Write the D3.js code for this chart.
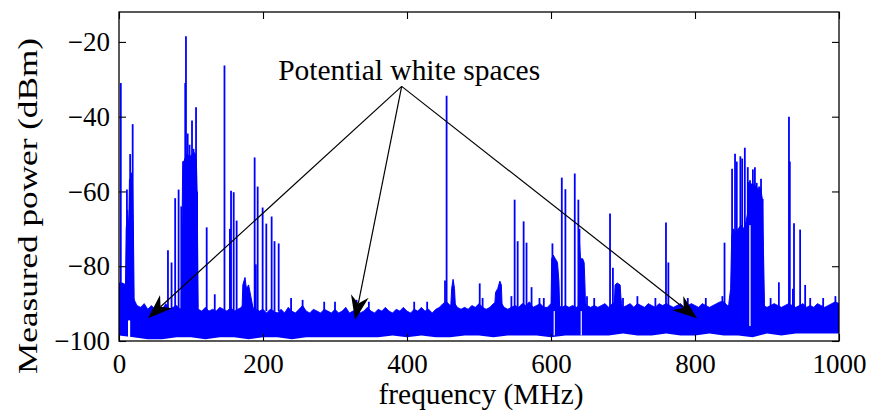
<!DOCTYPE html>
<html><head><meta charset="utf-8">
<script src="https://cdn.jsdelivr.net/npm/d3@7"></script>
<style>html,body{margin:0;padding:0;background:#fff;} svg{display:block;}</style>
</head><body>
<svg id="chart" width="871" height="411"></svg>
<script>
// ---------------- data ----------------
const xTicks = [0, 200, 400, 600, 800, 1000];
const yTicks = [-100, -80, -60, -40, -20];
const xDomain = [0, 1000];
const yDomain = [-100, -12];

// upper edge of the noise floor, every 5 MHz from 0 to 1000 MHz
const floorStep = 5;
const floorTop = [
  -84.5,-84.5,-85,-86.5,-88.5,-90.5,-91,-90,-91.5,-90.5,-91.5,-91,-91.5,-90,-91.5,-91,-90.5,-91.5,-90.5,-90.5,
  -90.5,-90.5,-91.5,-92,-91,-92,-91.5,-92,-91,-91.5,-92,-91,-92,-91.5,-91,-89.5,-89,-91,-91.5,-92,
  -91.5,-92.5,-91.5,-92,-92.5,-91.5,-92.5,-91,-92,-92.5,-91.5,-90.5,-92,-92.5,-91.5,-92,-92.5,-91.5,-92,-92.5,
  -91.5,-92.5,-92,-91,-92.5,-92,-91.5,-92.5,-92,-91,-92,-92.5,-91.5,-92,-91,-92,-92.5,-91.5,-92,-91,
  -92,-92.5,-91.5,-92,-91,-92,-91.5,-92.5,-91.5,-91,-90,-89.5,-90.5,-89.5,-91,-91.5,-91,-91.5,-90.5,-91,
  -90,-91,-91.5,-91,-90,-89.5,-89.5,-91,-91.5,-91,-90.5,-91,-90,-90.5,-89.5,-91,-90.5,-90,-91,-91,
  -90,-90.5,-90.5,-91,-90.5,-91,-90.5,-91,-90.5,-90,-90.5,-91,-90.5,-91,-90.5,-90,-91,-90,-89.5,-90,
  -91,-90.5,-90,-91,-90,-90.5,-91,-90,-90.5,-91,-90,-90.5,-90,-90.5,-91,-90.5,-90,-91,-90.5,-90,
  -90.5,-91,-90,-90.5,-91,-90.5,-90,-89.5,-89.5,-90.5,-90.5,-90.5,-90.5,-90.5,-90.5,-90.5,-90.5,-90.5,-90.5,-90.5,
  -91,-90.5,-90,-90.5,-91,-90.5,-90,-90.5,-91,-90.5,-90,-91,-90.5,-91,-90,-90.5,-91,-90.5,-90,-89.5,
  -90
];

// lower edge of the noise floor, every 20 MHz
const floorLowStep = 20;
const floorLow = [
  -98.5,-99,-99.5,-99.5,-99,-99,-99.5,-99,-99,-99.5,
  -99,-99,-99.5,-99,-99,-99,-99,-99,-99,-98.5,
  -99,-98.5,-99,-99,-98.5,-98.5,-99,-98.5,-98.5,-98.5,
  -99,-98.5,-98.5,-98.5,-98.5,-98,-98.5,-98.5,-98,-98.5,
  -98.5,-98,-98.5,-98.5,-99,-98,-98.5,-98,-98,-98,
  -98
];

// occupied bands (upper envelope of the dense part)
const lfBandFreq = [9, 10, 12, 13.5, 14.5, 17, 18.5, 20, 21];
const lfBandTop  = [-85, -70, -65, -70, -57, -56, -55, -70, -88];
const fmBandFreq = [86.5, 87.5, 88.5, 90, 92, 94, 96, 98, 100, 102, 104, 106, 107.5, 108.5, 110];
const fmBandTop  = [-91, -70, -52, -52, -51, -50, -50.5, -50, -51, -50, -49.5, -50, -52, -60, -91];
const tvBandFreq = [847, 849.5, 851, 853, 856, 860, 864, 868, 871, 873, 874, 877, 880, 884, 888, 891, 893.5, 895, 896.5];
const tvBandTop  = [-90, -86, -72, -70, -71, -70, -69, -70, -68, -66, -59, -58, -58, -58.5, -59.5, -59, -62, -75, -90];
const hump175Freq = [171, 172, 175, 177, 180, 183, 186];
const hump175Top  = [-91, -85, -83, -86, -85, -88, -91];
const hump465Freq = [461, 462, 464, 466, 467];
const hump465Top  = [-90, -86, -83.5, -86, -90];
const hump528Freq = [522, 523, 526, 529, 531, 532];
const hump528Top  = [-90, -87, -86, -84, -85, -90];
const hump605Freq = [600, 601, 603, 606, 609, 611, 612];
const hump605Top  = [-91, -78, -77, -78, -79, -84, -91];
const hump642Freq = [638, 639, 641, 644, 646, 647, 648];
const hump642Top  = [-91, -72, -78, -78, -79, -84, -91];
const hump692Freq = [688, 689, 692, 696, 697, 698];
const hump692Top  = [-90, -85, -84.5, -85, -88, -90];

// narrow carriers (frequency in MHz, peak in dBm)
const spikeFreq = [
  2.5, 11, 15.5, 17, 19,
  68, 73, 78, 82.8, 86.5,
  92, 93, 95.4, 98, 101.4, 103.5, 107, 108.5,
  121.8, 133, 146.5, 154, 155.6, 159.3, 163.4, 188.4, 190, 192.6, 199.5, 204.6, 212, 216, 221.8, 239, 255,
  285, 300, 330, 347, 410, 428,
  452.8, 455, 501, 505, 545, 549.5, 553.7, 562, 566, 573, 584, 590,
  602, 615, 620, 633, 638, 639.5, 650, 660, 682, 686, 700, 720, 745, 759.7, 763, 790, 815, 838, 841,
  851.5, 855.6, 858, 863, 865.5, 869.2, 873.3, 874.8, 876.4, 880.4, 883.2, 885.7, 889, 891.7, 894,
  905, 916.5, 930.5, 931.7, 936, 937.5, 946, 953, 960, 978, 995
];
const spikePeak = [
  -31, -59.5, -50, -55, -42,
  -75.7, -79, -61.8, -59.5, -64,
  -31, -18.5, -44.5, -47.5, -41, -48.6, -37.5, -60,
  -69.6, -87.5, -26.3, -70, -59.8, -60.2, -67.8, -50.9, -79.5, -58.7, -64.3, -68.6, -66.7, -73.3, -73.9, -88.5, -89,
  -89.5, -89.5, -89, -89.5, -89.5, -89.5,
  -83.8, -34.4, -84.6, -88.5, -88, -62.2, -73.3, -68, -73.7, -85.6, -88.5, -88.5,
  -73.9, -56.3, -59.4, -55.2, -62.2, -70, -88, -88.5, -65.9, -80.4, -88.5, -88, -88.5, -68.3, -79, -88.5, -88.5, -88, -73.7,
  -53.9, -49.9, -52, -50.6, -51.2, -48.3, -53.5, -57.5, -57, -54.1, -53.5, -57.7, -58.7, -56.6, -62,
  -88.5, -84.3, -40, -52, -86, -68.5, -70.2, -85, -88.5, -88.5, -88
];
const spikeBase = -92;

// white gaps in the floor
const notchFrom   = [12.5, 603.7, 641.2, 875.4];
const notchTo     = [15.5, 605.3, 642.8, 877.2];
const notchTop    = [-94.5, -92, -92, -69];
const notchBottom = [-99.5, -98.5, -98.5, -96];

// annotation
const annotationText = "Potential white spaces";
const annotationAt = [403, -30.2];          // text anchor (MHz, dBm)
const arrowFrom = [392.6, -31.9];           // common start of the arrows
const arrowTipFreq  = [40.3, 327.8, 802.8];
const arrowTipPower = [-93.9, -94.4, -93.9];

const xLabel = "frequency (MHz)";
const yLabel = "Measured power (dBm)";

// ---------------- drawing ----------------
const plotL = 119, plotR = 839, plotT = 12, plotB = 341;
const blue = "#0000ff";
const serif = "'Liberation Serif','Times New Roman',Times,serif";

const svg = d3.select("#chart");
const x = d3.scaleLinear().domain(xDomain).range([plotL, plotR]);
const y = d3.scaleLinear().domain(yDomain).range([plotB, plotT]);

svg.append("defs").append("clipPath").attr("id", "plotclip")
  .append("rect").attr("x", plotL).attr("y", plotT).attr("width", plotR - plotL).attr("height", plotB - plotT);

const g = svg.append("g").attr("clip-path", "url(#plotclip)");

// noise floor: from the axis bottom up to the upper envelope
const floorPts = floorTop.map((v, i) => [i * floorStep, v]);
g.append("path")
  .attr("d", d3.area().x(d => x(d[0])).y0(y(yDomain[0])).y1(d => y(d[1]))(floorPts))
  .attr("fill", blue).attr("stroke", blue).attr("stroke-width", 0.8);

// bands
const bands = [
  [lfBandFreq, lfBandTop], [fmBandFreq, fmBandTop], [tvBandFreq, tvBandTop],
  [hump175Freq, hump175Top], [hump465Freq, hump465Top], [hump528Freq, hump528Top],
  [hump605Freq, hump605Top], [hump642Freq, hump642Top], [hump692Freq, hump692Top]
];
bands.forEach(([fr, tp]) => {
  const pts = fr.map((f, i) => [f, tp[i]]);
  g.append("path")
    .attr("d", d3.area().x(d => x(d[0])).y0(y(spikeBase)).y1(d => y(d[1]))(pts))
    .attr("fill", blue).attr("stroke", blue).attr("stroke-width", 1);
});

// spikes
g.selectAll("line.spike").data(spikeFreq.map((f, i) => [f, spikePeak[i]]))
  .join("line").attr("class", "spike")
  .attr("x1", d => x(d[0])).attr("x2", d => x(d[0]))
  .attr("y1", y(spikeBase)).attr("y2", d => y(d[1]))
  .attr("stroke", blue).attr("stroke-width", 1.8);

// white below the lower envelope of the floor
const lowPts = floorLow.map((v, i) => [i * floorLowStep, v]);
g.append("path")
  .attr("d", d3.area().x(d => x(d[0])).y0(y(yDomain[0]) + 2).y1(d => y(d[1]))(lowPts))
  .attr("fill", "#fff").attr("stroke", "none");

// notches
g.selectAll("rect.notch").data(notchFrom.map((f, i) => i))
  .join("rect").attr("class", "notch")
  .attr("x", i => x(notchFrom[i])).attr("width", i => x(notchTo[i]) - x(notchFrom[i]))
  .attr("y", i => y(notchTop[i])).attr("height", i => y(notchBottom[i]) - y(notchTop[i]))
  .attr("fill", "#fff");

// axes (ticks inward on all four sides)
const tickLen = 7;
const axB = svg.append("g").attr("transform", `translate(0,${plotB})`)
  .call(d3.axisBottom(x).tickValues(xTicks).tickSize(-tickLen).tickPadding(13).tickFormat(d3.format("d")));
const axT = svg.append("g").attr("transform", `translate(0,${plotT})`)
  .call(d3.axisTop(x).tickValues(xTicks).tickSize(-tickLen).tickFormat(""));
const axL = svg.append("g").attr("transform", `translate(${plotL},0)`)
  .call(d3.axisLeft(y).tickValues(yTicks).tickSize(-tickLen).tickPadding(9)
    .tickFormat(d => d < 0 ? "\u2212" + Math.abs(d) : d));
const axR = svg.append("g").attr("transform", `translate(${plotR},0)`)
  .call(d3.axisRight(y).tickValues(yTicks).tickSize(-tickLen).tickFormat(""));
[axB, axT, axL, axR].forEach(a => {
  a.select(".domain").remove();
  a.selectAll("line").attr("stroke", "#000").attr("stroke-width", 1.1);
  a.selectAll("text").attr("font-family", serif).attr("font-size", 27).attr("fill", "#000");
});

svg.append("rect").attr("x", plotL).attr("y", plotT).attr("width", plotR - plotL).attr("height", plotB - plotT)
  .attr("fill", "none").attr("stroke", "#000").attr("stroke-width", 1.3);

// axis labels
svg.append("text").attr("x", 481).attr("y", 404)
  .attr("text-anchor", "middle").attr("font-family", serif).attr("font-size", 30).attr("fill", "#000")
  .attr("textLength", 205).attr("lengthAdjust", "spacingAndGlyphs")
  .text(xLabel);
svg.append("text").attr("transform", "translate(29,206) scale(0.85,1) rotate(-90)")
  .attr("text-anchor", "middle").attr("dy", "0.3em").attr("font-family", serif).attr("font-size", 32).attr("fill", "#000")
  .attr("textLength", 336).attr("lengthAdjust", "spacingAndGlyphs")
  .text(yLabel);

// annotation text
svg.append("text").attr("x", x(annotationAt[0])).attr("y", y(annotationAt[1]))
  .attr("text-anchor", "middle").attr("font-family", serif).attr("font-size", 29)
  .attr("textLength", 262).attr("lengthAdjust", "spacingAndGlyphs").attr("fill", "#000")
  .text(annotationText);

// arrows
const ax0 = x(arrowFrom[0]), ay0 = y(arrowFrom[1]);
arrowTipFreq.forEach((f, i) => {
  const tx = x(f), ty = y(arrowTipPower[i]);
  const dx = ax0 - tx, dy = ay0 - ty, L = Math.hypot(dx, dy);
  const ux = dx / L, uy = dy / L, nx = -uy, ny = ux;
  const len = 24.5, half = 9, notch = 17;
  svg.append("line").attr("x1", ax0).attr("y1", ay0)
    .attr("x2", tx + ux * notch).attr("y2", ty + uy * notch)
    .attr("stroke", "#000").attr("stroke-width", 1.2);
  const p = [
    [tx, ty],
    [tx + ux * len + nx * half, ty + uy * len + ny * half],
    [tx + ux * notch, ty + uy * notch],
    [tx + ux * len - nx * half, ty + uy * len - ny * half]
  ];
  svg.append("path").attr("d", "M" + p.map(q => q.join(",")).join("L") + "Z").attr("fill", "#000");
});
</script>
</body></html>
